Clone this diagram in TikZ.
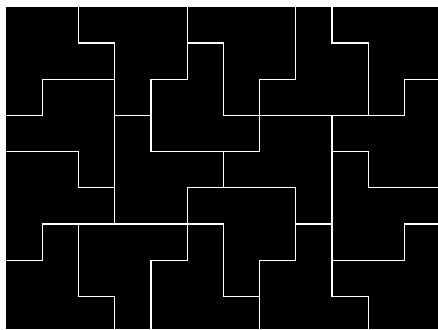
\documentclass[tikz,border=0pt]{standalone}
\begin{document}
\begin{tikzpicture}[x=36.2pt,y=-36.2pt,
  seam/.style={draw=white,line width=1.2pt,line join=miter,line cap=rect}]
\useasboundingbox (-0.174,-0.188) rectangle (11.926,8.901);
\fill[white] (-0.174,-0.188) rectangle (11.926,8.901);
\fill[black] (0,0) rectangle (11.926,8.901);
\begin{scope}
\clip (0,0) rectangle (11.926,8.901);
\coordinate (E) at (0,0);
\draw[seam] (2,0) -- (2,1) -- (3,1) -- (3,6);
\draw[seam] (0,3) -- (1,3) -- (1,2) -- (3,2);
\draw[seam] (3,3) -- (4,3);
\draw[seam] (5,0) -- (5,2) -- (4,2) -- (4,4);
\draw[seam] (5,1) -- (6,1) -- (6,3);
\draw[seam] (6,3) -- (11,3) -- (11,2) -- (12.2,2);
\draw[seam] (8,0) -- (8,2) -- (7,2) -- (7,4);
\draw[seam] (9,0) -- (9,1) -- (10,1) -- (10,3);
\draw[seam] (9,3) -- (9,8) -- (10,8) -- (10,9.2);
\draw[seam] (9,4) -- (10,4) -- (10,5) -- (12.2,5);
\draw[seam] (4,4) -- (7,4);
\draw[seam] (0,4) -- (2,4) -- (2,5) -- (3,5);
\draw[seam] (6,4) -- (6,5);
\draw[seam] (8,5) -- (5,5) -- (5,7) -- (4,7) -- (4,9.2);
\draw[seam] (0,7) -- (1,7) -- (1,6) -- (6,6);
\draw[seam] (6,6) -- (6,8) -- (7,8);
\draw[seam] (7,9.2) -- (7,7) -- (8,7) -- (8,5);
\draw[seam] (8,6) -- (9,6);
\draw[seam] (2,6) -- (2,8) -- (3,8) -- (3,9.2);
\draw[seam] (9,7) -- (11,7) -- (11,6) -- (12.2,6);
\end{scope}
\end{tikzpicture}
\end{document}
